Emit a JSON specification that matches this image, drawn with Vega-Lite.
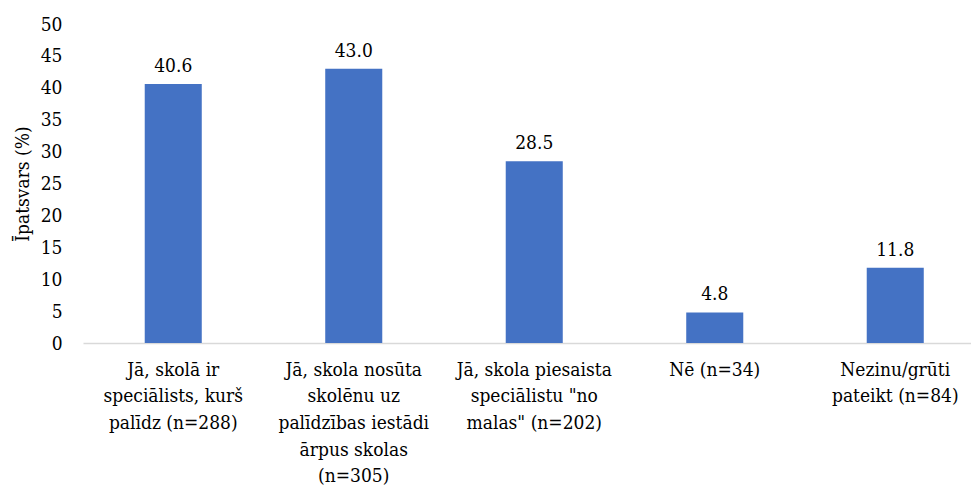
{
  "$schema": "https://vega.github.io/schema/vega-lite/v6.json",
  "autosize": "none",
  "width": 888,
  "height": 319,
  "padding": {"left": 83, "top": 24, "right": 0, "bottom": 144},
  "background": "white",
  "config": {
    "view": {"stroke": null},
    "font": "DejaVu Serif Condensed",
    "axis": {"labelFont": "DejaVu Serif Condensed", "titleFont": "DejaVu Serif Condensed", "labelColor": "#000000", "titleColor": "#000000"}
  },
  "data": {
    "values": [
      {"kategorija": "Jā, skolā ir|speciālists, kurš|palīdz (n=288)", "ipatsvars": 40.6},
      {"kategorija": "Jā, skola nosūta|skolēnu uz|palīdzības iestādi|ārpus skolas|(n=305)", "ipatsvars": 43.0},
      {"kategorija": "Jā, skola piesaista|speciālistu \"no|malas\" (n=202)", "ipatsvars": 28.5},
      {"kategorija": "Nē (n=34)", "ipatsvars": 4.8},
      {"kategorija": "Nezinu/grūti|pateikt (n=84)", "ipatsvars": 11.8}
    ]
  },
  "encoding": {
    "x": {
      "field": "kategorija",
      "type": "nominal",
      "sort": null,
      "scale": {"range": [0, 902.5], "paddingInner": 0.684, "paddingOuter": 0.342},
      "axis": {
        "title": null,
        "labelAngle": 0,
        "labelExpr": "split(datum.label, '|')",
        "labelFont": "DejaVu Serif Condensed",
        "labelFontSize": 19,
        "labelLineHeight": 26.7,
        "labelBaseline": "top",
        "labelPadding": 17,
        "labelLimit": 300,
        "ticks": false,
        "domainColor": "#d9d9d9",
        "domainWidth": 1.5,
        "grid": false
      }
    },
    "y": {
      "field": "ipatsvars",
      "type": "quantitative",
      "scale": {"domain": [0, 50], "nice": false},
      "axis": {
        "title": "Īpatsvars (%)",
        "values": [0, 5, 10, 15, 20, 25, 30, 35, 40, 45, 50],
        "labelFont": "DejaVu Serif Condensed",
        "titleFont": "DejaVu Serif Condensed",
        "labelFontSize": 19,
        "titleFontSize": 19,
        "titleFontWeight": "normal",
        "labelPadding": 21,
        "titlePadding": 8,
        "ticks": false,
        "domain": false,
        "grid": false
      }
    }
  },
  "layer": [
    {"mark": {"type": "bar", "color": "#4472C4"}},
    {
      "mark": {"type": "text", "baseline": "alphabetic", "dy": -12, "fontSize": 19, "color": "#000000", "font": "DejaVu Serif Condensed"},
      "encoding": {"text": {"field": "ipatsvars", "type": "quantitative", "format": ".1f"}}
    }
  ]
}
